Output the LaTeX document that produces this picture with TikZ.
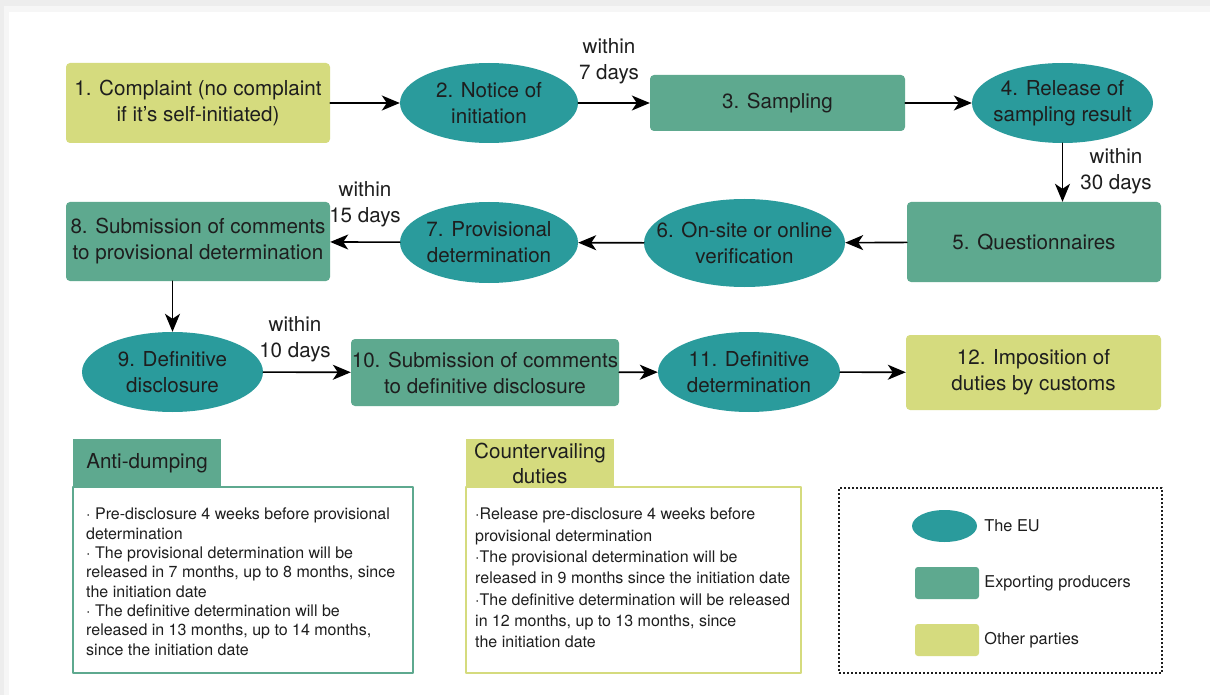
\documentclass[tikz,border=0pt]{standalone}
\usepackage{fontspec}
\setmainfont{TeX Gyre Heros}
\usetikzlibrary{shapes.geometric,arrows.meta,positioning}
\definecolor{cEU}{HTML}{2A9B9C}
\definecolor{cProd}{HTML}{5EA98F}
\definecolor{cOth}{HTML}{D5DB7E}
\definecolor{ink}{HTML}{1E1E1E}

\begin{document}
\begin{tikzpicture}[x=1pt,y=-1pt,line cap=round,line join=round,
  >={Stealth[length=18pt,width=15pt,inset=5pt]},
  every node/.style={inner sep=0pt,text=ink,align=center,font=\fontsize{20.6}{26}\selectfont},
  eu/.style={ellipse,fill=cEU},
  prod/.style={rectangle,rounded corners=4pt,fill=cProd},
  other/.style={rectangle,rounded corners=4pt,fill=cOth},
  arr/.style={->,line width=1.6pt,draw=black},
  note/.style={anchor=north west,align=left,font=\fontsize{16}{19.3}\selectfont},
  small/.style={anchor=west,font=\fontsize{16.3}{19}\selectfont}]
  \useasboundingbox (0,0) rectangle (1210,695);
  % card and its shadow
  \fill[gray!14] (0,0) rectangle (1210,695);
  \fill[gray!7] (4,6) rectangle (1210,695);
  \fill[white] (9,12) rectangle (1210,695);
  % steps
  \node[other,minimum width=264,minimum height=80] (n1) at (198,103) {1. Complaint (no complaint\\if it’s self-initiated)};
  \node[eu,minimum width=178,minimum height=80,label={center:{2. Notice of\\initiation}}] (n2) at (489,103) {};
  \node[prod,minimum width=255,minimum height=56] (n3) at (777.5,103) {3. Sampling};
  \node[eu,minimum width=181,minimum height=80,label={center:{4. Release of\\sampling result}}] (n4) at (1062.5,103) {};
  \node[prod,minimum width=254,minimum height=80] (n5) at (1034,242) {5. Questionnaires};
  \node[eu,minimum width=201,minimum height=88,label={center:{6. On-site or online\\verification}}] (n6) at (744.5,243) {};
  \node[eu,minimum width=178,minimum height=81,label={center:{7. Provisional\\determination}}] (n7) at (489,242.5) {};
  \node[prod,minimum width=264,minimum height=79] (n8) at (198,241.5) {8. Submission of comments\\to provisional determination};
  \node[eu,minimum width=181,minimum height=80,label={center:{9. Definitive\\disclosure}}] (n9) at (172.5,372) {};
  \node[prod,minimum width=268,minimum height=67] (n10) at (485,372.5) {10. Submission of comments\\to definitive disclosure};
  \node[eu,minimum width=182,minimum height=80,label={center:{11. Definitive\\determination}}] (n11) at (749,372) {};
  \node[other,minimum width=255,minimum height=75] (n12) at (1033.5,372.5) {12. Imposition of\\duties by customs};
  % flow
  \draw[arr] (n1) -- (n2);
  \draw[arr] (n2) -- (n3);
  \draw[arr] (n3) -- (n4);
  \draw[arr] (n4.south) -- (n4.south |- n5.north);
  \draw[arr] (n5) -- (n6);
  \draw[arr] (n6) -- (n7);
  \draw[arr] (n7) -- (n8);
  \draw[arr] (n9.north |- n8.south) -- (n9.north);
  \draw[arr] (n9) -- (n10);
  \draw[arr] (n10) -- (n11);
  \draw[arr] (n11) -- (n12);
  \node (w7) at (609,61) {within\\7 days};
  \node (w30) at (1116,171) {within\\30 days};
  \node (w15) at (365,204) {within\\15 days};
  \node (w10) at (295,339) {within\\10 days};
  % time limits
  \node[draw=cProd,line width=1.5pt,minimum width=340,minimum height=186] (adbox) at (243,580) {};
  \node[prod,rounded corners=0pt,minimum width=148,minimum height=48] (adtab) at (147,463) {Anti-dumping};
  \node[note] (adtxt) at (86,508) {· Pre-disclosure 4 weeks before provisional\\determination\\· The provisional determination will be\\released in 7 months, up to 8 months, since\\the initiation date\\· The definitive determination will be\\released in 13 months, up to 14 months,\\since the initiation date};
  \node[draw=cOth,line width=1.5pt,minimum width=335,minimum height=186] (cvbox) at (633.5,580) {};
  \node[other,rounded corners=0pt,minimum width=148,minimum height=48,font=\fontsize{20.6}{25}\selectfont] (cvtab) at (540,463) {Countervailing\\duties};
  \node[note,font=\fontsize{16}{21.3}\selectfont] (cvtxt) at (475,508) {·Release pre-disclosure 4 weeks before\\provisional determination\\·The provisional determination will be\\released in 9 months since the initiation date\\·The definitive determination will be released\\in 12 months, up to 13 months, since\\the initiation date};
  % legend
  \node[draw=ink,line width=1.8pt,line cap=butt,dash pattern=on 2pt off 2pt,minimum width=323,minimum height=185] (lgbox) at (1000.5,580.5) {};
  \node[eu,minimum width=65,minimum height=32] (lgeu) at (944.5,526) {};
  \node[prod,rounded corners=3pt,minimum width=64,minimum height=32] (lgprod) at (947,583) {};
  \node[other,rounded corners=3pt,minimum width=64,minimum height=32] (lgoth) at (947,640) {};
  \node[small,right=7pt of lgeu] (lteu) {The EU};
  \node[small,right=5pt of lgprod] (ltprod) {Exporting producers};
  \node[small,right=5pt of lgoth] (ltoth) {Other parties};
\end{tikzpicture}
\end{document}
